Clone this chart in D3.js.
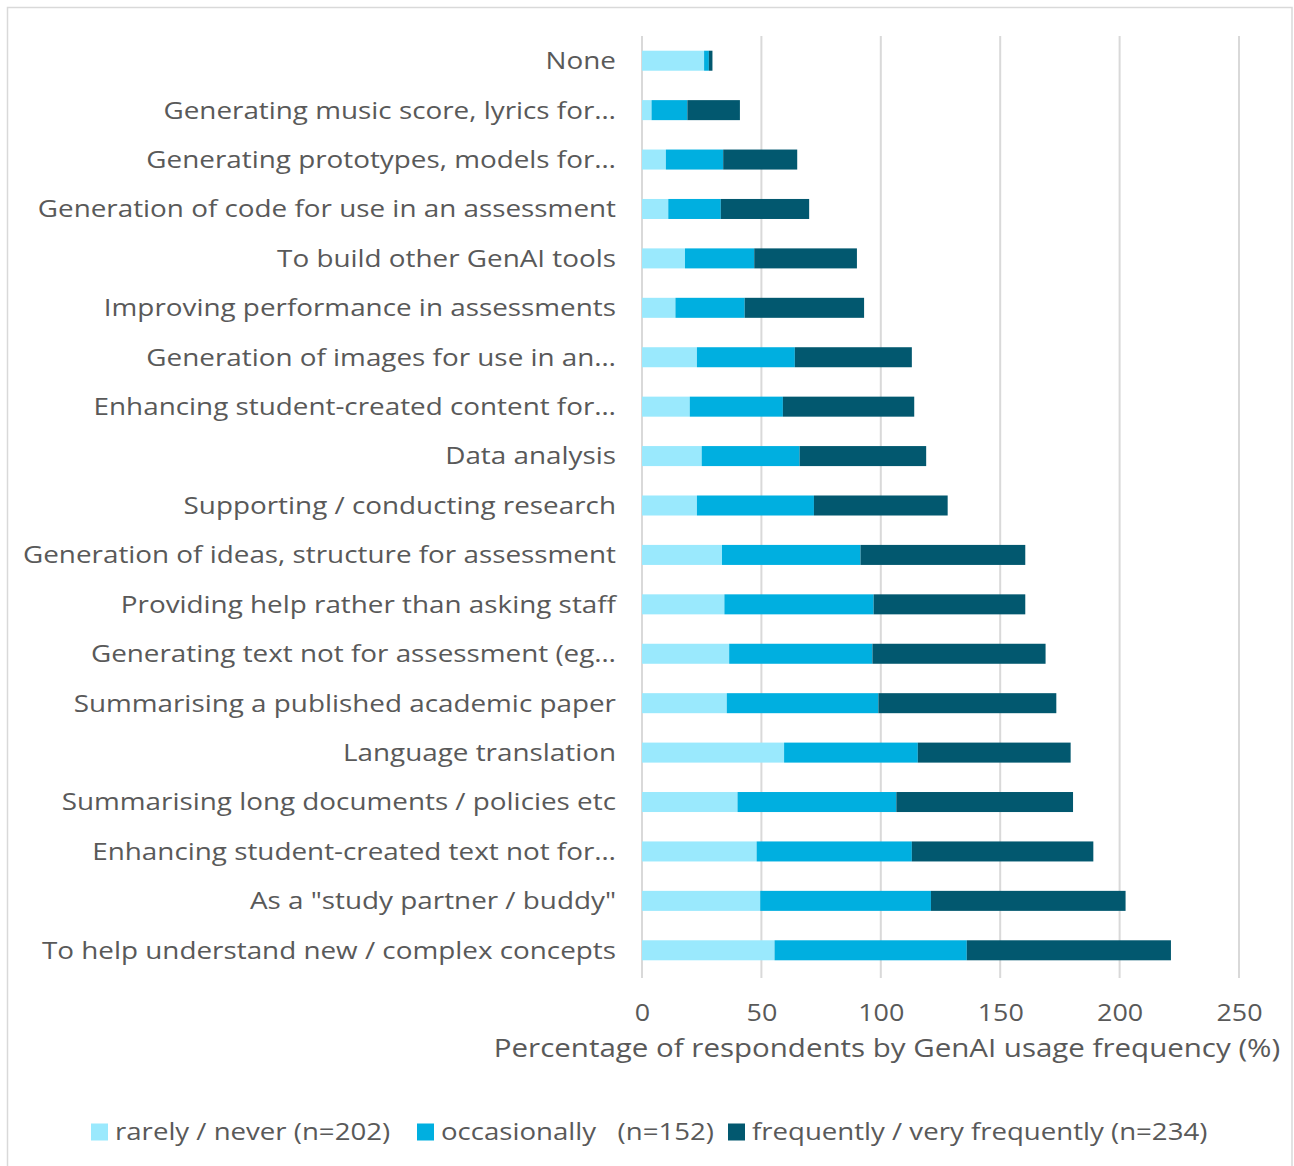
<!DOCTYPE html>
<html>
<head>
<meta charset="utf-8">
<script src="https://cdn.jsdelivr.net/npm/d3@7"></script>
<style>
  html, body { margin: 0; padding: 0; background: #fff; }
  svg { display: block; }
  text { font-family: "Open Sans", "Noto Sans", sans-serif; fill: #595959; }
</style>
</head>
<body>
<svg id="chart" width="1294" height="1166"></svg>
<script>
// GenAI use cases, listed top to bottom
const categories = [
  "None",
  "Generating music score, lyrics for…",
  "Generating prototypes, models for…",
  "Generation of code for use in an assessment",
  "To build other GenAI tools",
  "Improving performance in assessments",
  "Generation of images for use in an…",
  "Enhancing student-created content for…",
  "Data analysis",
  "Supporting / conducting research",
  "Generation of ideas, structure for assessment",
  "Providing help rather than asking staff",
  "Generating text not for assessment (eg…",
  "Summarising a published academic paper",
  "Language translation",
  "Summarising long documents / policies etc",
  "Enhancing student-created text not for…",
  "As a \"study partner / buddy\"",
  "To help understand new / complex concepts"
];

// Percentage of each usage-frequency group reporting the use case
const rarelyNever = [26, 4, 10, 11, 18, 14, 23, 20, 25, 23, 33.5, 34.5, 36.5, 35.5, 59.5, 40, 48, 49.5, 55.5];
const occasionally = [2, 15, 24, 22, 29, 29, 41, 39, 41, 49, 58, 62.5, 60, 63.5, 56, 66.5, 65, 71.5, 80.5];
const frequently = [1.5, 22, 31, 37, 43, 50, 49, 55, 53, 56, 69, 63.5, 72.5, 74.5, 64, 74, 76, 81.5, 85.5];

const seriesNames = ["rarely / never (n=202)", "occasionally   (n=152)", "frequently / very frequently (n=234)"];
const seriesKeys = ["rarely", "occasionally", "frequently"];
const seriesColors = ["#9ae9fd", "#00afe0", "#02586f"];

const xTicks = [0, 50, 100, 150, 200, 250];
const xTitle = "Percentage of respondents by GenAI usage frequency (%)";

const rows = categories.map((c, i) => ({
  category: c,
  rarely: rarelyNever[i],
  occasionally: occasionally[i],
  frequently: frequently[i]
}));

const svg = d3.select("#chart");

// the chart font renders slightly wide; text is stretched horizontally around its anchor
function wideText(sel, x, y, sx) {
  return sel.attr("transform", `translate(${x},${y}) scale(${sx},1)`)
    .attr("x", 0).attr("y", 0).attr("dy", "0.35em");
}

// outer chart frame
svg.append("rect")
  .attr("x", 7.5).attr("y", 7.5)
  .attr("width", 1284.5).attr("height", 1170)
  .attr("fill", "none")
  .attr("stroke", "#d9d9d9")
  .attr("stroke-width", 1.5);

const plot = { left: 642, right: 1239, top: 36, bottom: 975 };

const x = d3.scaleLinear().domain([0, 250]).range([plot.left, plot.right]);
const y = d3.scaleBand()
  .domain(categories)
  .range([plot.top, plot.bottom])
  .paddingInner(0.595)
  .paddingOuter(0.2975);

// vertical gridlines
svg.append("g")
  .selectAll("line")
  .data(xTicks)
  .join("line")
  .attr("x1", d => x(d)).attr("x2", d => x(d))
  .attr("y1", plot.top).attr("y2", plot.bottom + 3)
  .attr("stroke", "#d9d9d9")
  .attr("stroke-width", 2);

// stacked bars
const stack = d3.stack().keys(seriesKeys);
const layers = stack(rows);

svg.append("g")
  .selectAll("g")
  .data(layers)
  .join("g")
  .attr("fill", (d, i) => seriesColors[i])
  .selectAll("rect")
  .data(d => d)
  .join("rect")
  .attr("x", d => x(d[0]))
  .attr("width", d => x(d[1]) - x(d[0]))
  .attr("y", d => y(d.data.category))
  .attr("height", y.bandwidth());

// category labels
svg.append("g")
  .selectAll("text")
  .data(categories)
  .join("text")
  .each(function (d) {
    wideText(d3.select(this), 616, y(d) + y.bandwidth() / 2, 1.16);
  })
  .attr("text-anchor", "end")
  .attr("font-size", 24)
  .text(d => d);

// x axis tick labels
const xAxis = d3.axisBottom(x).tickValues(xTicks).tickSize(0).tickPadding(0);
const gx = svg.append("g")
  .attr("transform", `translate(0, 1013)`)
  .call(xAxis);
gx.select(".domain").remove();
gx.selectAll("text")
  .attr("transform", "scale(1.12,1)")
  .attr("y", 0)
  .attr("dy", "0.35em")
  .attr("font-size", 24)
  .attr("fill", "#595959")
  .style("font-family", "\"Open Sans\", \"Noto Sans\", sans-serif");

// x axis title
wideText(svg.append("text"), 887, 1048, 1.18)
  .attr("text-anchor", "middle")
  .attr("font-size", 25)
  .text(xTitle);

// legend
const legendX = [91, 417, 728];
const legend = svg.append("g")
  .selectAll("g")
  .data(seriesNames)
  .join("g")
  .attr("transform", (d, i) => `translate(${legendX[i]}, 1132)`);

legend.append("rect")
  .attr("x", 0).attr("y", -8.5)
  .attr("width", 17).attr("height", 17)
  .attr("fill", (d, i) => seriesColors[i]);

legend.append("text")
  .each(function () { wideText(d3.select(this), 24, 0, 1.15); })
  .attr("font-size", 24)
  .style("white-space", "pre")
  .text(d => d);
</script>
</body>
</html>
